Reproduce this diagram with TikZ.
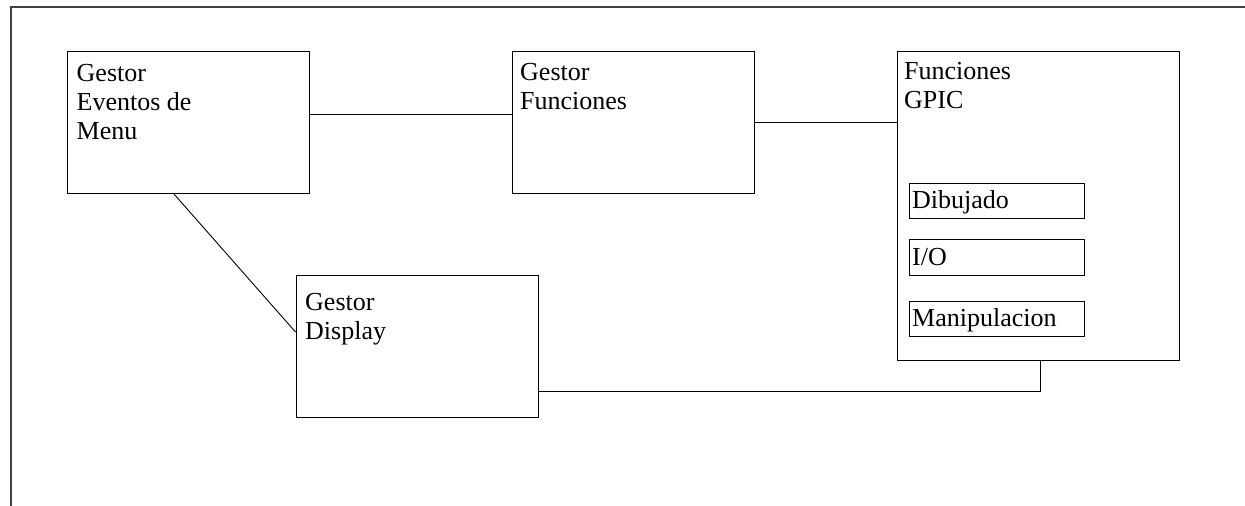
\documentclass[tikz,border=0pt]{standalone}
\usepackage{fontspec}
\setmainfont{Liberation Serif}
\usetikzlibrary{calc}
\tikzset{
  box/.style={draw, line width=1pt, rectangle, inner sep=0pt, anchor=north west},
  subbox/.style={box, minimum width=175pt},
  lbl/.style={anchor=base west, inner sep=0pt, align=left, font=\fontsize{26}{28.7}\selectfont},
  wire/.style={line width=0.9pt}
}
\begin{document}
\begin{tikzpicture}[x=1pt, y=-1pt]
\useasboundingbox (0,0) rectangle (1245,506);
% open frame
\draw[line width=1.3pt, black!75] (11,506) -- (11,7) -- (1245,7);

% main blocks
\node[box, minimum width=242pt, minimum height=142pt] (menu) at (67,50.5) {};
\node[box, minimum width=242pt, minimum height=142pt] (func) at (512,50.5) {};
\node[box, minimum width=282pt, minimum height=309pt] (gpic) at (897,51) {};
\node[box, minimum width=242pt, minimum height=141.5pt] (disp) at (295.5,275) {};

% sub-blocks of Funciones GPIC
\node[subbox, minimum height=35.5pt] (dib) at (909,182.5) {};
\node[subbox, minimum height=36pt] (io) at (909,239) {};
\node[subbox, minimum height=35.5pt] (man) at (909,300.5) {};

% labels (anchored at the baseline of their last line)
\node[lbl] (tmenu) at (76.5,139) {Gestor\\Eventos de\\Menu};
\node[lbl] (tfunc) at (520,109.5) {Gestor\\Funciones};
\node[lbl] (tgpic) at (904,108.5) {Funciones\\GPIC};
\node[lbl] (tdisp) at (305,339) {Gestor\\Display};
\node[lbl] (tdib) at (912,208) {Dibujado};
\node[lbl] (tio) at (912,265) {I/O};
\node[lbl] (tman) at (912,326.5) {Manipulacion};

% connectors
\draw[wire] ([yshift=-64pt]menu.north east) -- ([yshift=-64pt]func.north west);
\draw[wire] (func.east) -- (gpic.west |- func.east);
\draw[wire] ([xshift=2pt]gpic.south) |- ([yshift=26.5pt]disp.south east);
\draw[wire] ([xshift=-15pt]menu.south) -- ([yshift=-57pt]disp.north west);
\end{tikzpicture}
\end{document}
